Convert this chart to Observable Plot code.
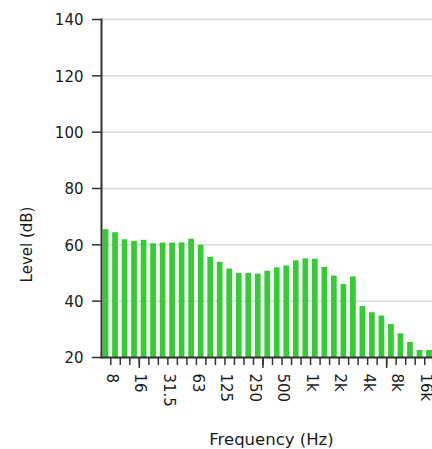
<!DOCTYPE html>
<html><head><meta charset="utf-8">
<script src="https://cdn.jsdelivr.net/npm/d3@7"></script>
<script src="https://cdn.jsdelivr.net/npm/@observablehq/plot@0.6"></script>
<style>html,body{margin:0;padding:0;background:#fff;overflow:hidden}</style>
</head><body><div id="chart"></div>
<script>
const bands = ["8","10","12.5","16","20","25","31.5","40","50","63","80","100","125","160","200","250","315","400","500","630","800","1k","1.25k","1.6k","2k","2.5k","3.15k","4k","5k","6.3k","8k","10k","12.5k","16k","20k"];
const levels = [65.4,64.3,61.8,61.2,61.6,60.4,60.6,60.6,60.7,62.0,59.8,55.6,53.8,51.4,49.8,49.8,49.6,50.6,51.8,52.5,54.3,55.0,54.9,52.0,48.9,45.9,48.6,38.1,35.9,34.7,31.7,28.4,25.4,22.5,22.5];
const labeledBands = ["8","16","31.5","63","125","250","500","1k","2k","4k","8k","16k"];
const longTickBands = ["16","315","6.3k"];
const yTicks = [20,40,60,80,100,120,140];

const rows = bands.map((b, i) => ({band: b, level: levels[i]}));
const xRange = [100.75, 433.75];
const step = (xRange[1] - xRange[0]) / bands.length;
const axisColor = "#333";

const chart = Plot.plot({
  width: 432, height: 449,
  marginTop: 19, marginBottom: 92, marginLeft: 101, marginRight: 0,
  style: {fontFamily: "'DejaVu Sans', Verdana, sans-serif", fontSize: "15px", color: "#1a1a1a", background: "#fff"},
  x: {type: "band", domain: bands, range: xRange, paddingInner: 0.4, paddingOuter: 0.2, round: false},
  y: {domain: [20, 140]},
  marks: [
    Plot.gridY(yTicks, {stroke: "#d9d9d9", strokeOpacity: 1, strokeWidth: 1.5}),
    Plot.barY(rows, {x: "band", y1: 20, y2: "level", fill: "#33cc33"}),
    Plot.frame({anchor: "left", stroke: axisColor, strokeWidth: 2}),
    Plot.frame({anchor: "bottom", stroke: axisColor, strokeWidth: 2}),
    Plot.axisY(yTicks, {tickSize: 9, tickFormat: () => "", stroke: axisColor, strokeWidth: 1.5, label: null}),
    Plot.axisY(yTicks, {tickSize: 0, tickPadding: 18, dy: 1, label: null, fill: "#1a1a1a"}),
    Plot.axisX(bands, {tickSize: 8, tickFormat: () => "", dx: step / 2, stroke: axisColor, strokeWidth: 1.5, label: null}),
    Plot.axisX(longTickBands, {tickSize: 11, tickFormat: () => "", dx: step / 2, stroke: axisColor, strokeWidth: 1.5, label: null}),
    Plot.axisX(labeledBands, {tickSize: 0, tickPadding: 16, tickRotate: 90, dx: step / 2 + 1, label: null, fill: "#1a1a1a"}),
    Plot.text(["Frequency (Hz)"], {text: d => d, frameAnchor: "bottom", textAnchor: "middle", lineAnchor: "bottom", dx: 4.5, dy: 87, fontSize: 16.5, fill: "#1a1a1a"}),
    Plot.text(["Level (dB)"], {text: d => d, frameAnchor: "left", textAnchor: "middle", lineAnchor: "bottom", rotate: -90, dx: -70, dy: 56, fontSize: 15, fill: "#1a1a1a"})
  ]
});
document.getElementById("chart").appendChild(chart);
</script>
</body></html>
